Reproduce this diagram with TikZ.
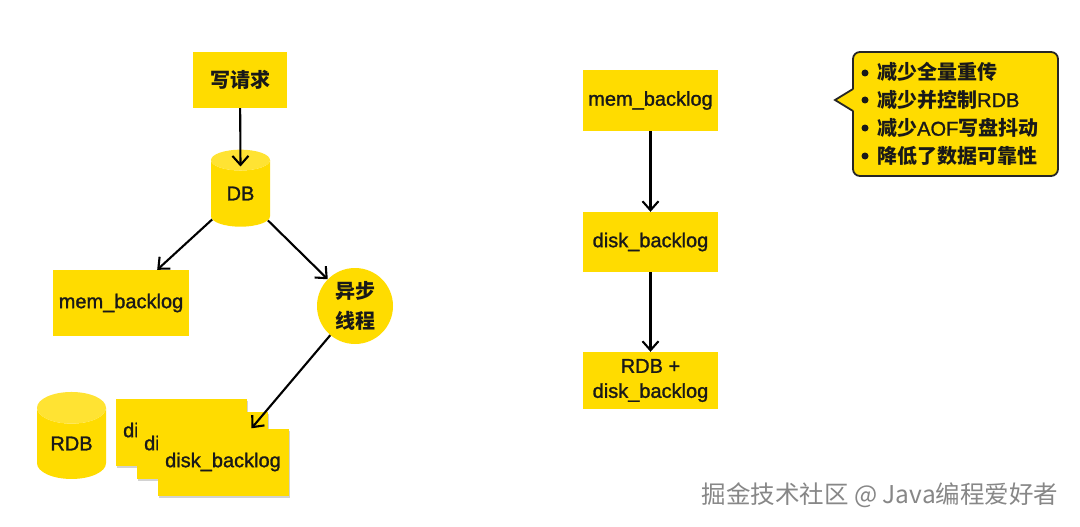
\documentclass[tikz,border=0pt]{standalone}
\usepackage{fontspec}
\setmainfont{Liberation Sans}
\newfontfamily\med{Liberation Sans}[FakeBold=1.3]
\newfontfamily\cjk{Noto Sans CJK SC}
\usetikzlibrary{shapes.geometric,shadows,arrows.meta,calc}
\definecolor{ylw}{RGB}{255,220,0}
\definecolor{txt}{RGB}{25,25,25}
\definecolor{wm}{RGB}{135,135,135}
\begin{document}
\begin{tikzpicture}[x=1pt,y=-1pt,
  box/.style={fill=ylw, text=txt, font=\med\fontsize{20}{25}\selectfont, inner sep=0pt, align=center},
  card/.style={box, minimum width=131pt, minimum height=67pt,
    drop shadow={shadow xshift=1.5pt, shadow yshift=-2pt, opacity=0.35}},
  dbcyl/.style={cylinder, shape border rotate=90, aspect=0.75, draw=none,
    cylinder uses custom fill, cylinder body fill=ylw, cylinder end fill=ylw!80!white,
    text=txt, font=\med\fontsize{20}{24}\selectfont, inner sep=0pt},
  circ/.style={circle, fill=ylw, minimum size=76pt, inner sep=0pt, align=center, text=txt,
    font=\cjk\bfseries\fontsize{20}{30}\selectfont},
  arr/.style={draw=black, line width=2.1pt, -{Straight Barb[length=9pt,width=16pt,line width=2.1pt]}},
  bul/.style={anchor=west, text=txt, inner sep=0pt, font=\med\fontsize{20}{24}\selectfont},
  dot/.style={circle, fill=txt, minimum size=7pt, inner sep=0pt}
]
\useasboundingbox (0,0) rectangle (1080,527);
\fill[white] (0,0) rectangle (1080,527);

% left diagram
\node[box, minimum width=94pt, minimum height=56pt, font=\cjk\bfseries\fontsize{20}{24}\selectfont] (req) at (240,80) {写请求};
\node[dbcyl, minimum width=59pt, minimum height=77pt] (db) at (240.5,193.5) {DB};
\node[box, minimum width=136pt, minimum height=66pt] (mem) at (121,303) {mem\_backlog};
\node[circ] (async) at (355,306) {异步\\线程};
\node[dbcyl, minimum width=69pt, minimum height=87pt] (rdb) at (71.5,443.5) {RDB};
\node[card] (c1) at (181,432) {disk\_backlog};
\node[card] (c2) at (202,445) {disk\_backlog};
\node[card] (c3) at (223,462) {disk\_backlog};
\coordinate (dbtop) at ($(db.north)+(0,17)$);

\draw[arr] (req) -- (dbtop);
\draw[arr] (db) -- (mem);
\draw[arr] (db) -- (async);
\draw[arr] (async) -- (c3);

% middle diagram
\node[box, minimum width=135pt, minimum height=61pt] (mem2) at (650.5,100.5) {mem\_backlog};
\node[box, minimum width=135pt, minimum height=60pt] (disk2) at (650.5,242) {disk\_backlog};
\node[box, minimum width=135pt, minimum height=57pt] (rdb2) at (650.5,380.5) {RDB +\\disk\_backlog};
\draw[arr] (mem2) -- (disk2);
\draw[arr] (disk2) -- (rdb2);

% callout
\draw[line width=1.8pt, draw=black!85, fill=ylw, rounded corners=7pt] (853,52) rectangle (1058,176);
\fill[ylw] (856,88) -- (835,100) -- (856,112) -- cycle;
\draw[line width=1.8pt, draw=black!85, line join=miter] (853,89) -- (835,100) -- (853,111);
\node[dot] (d1) at (865,73) {};
\node[dot] (d2) at (865,100) {};
\node[dot] (d3) at (865,128) {};
\node[dot] (d4) at (865,156) {};
\node[bul] (l1) at (877,72) {{\cjk\bfseries 减少全量重传}};
\node[bul] (l2) at (877,99.5) {{\cjk\bfseries 减少并控制}RDB};
\node[bul] (l3) at (877,128) {{\cjk\bfseries 减少}AOF{\cjk\bfseries 写盘抖动}};
\node[bul] (l4) at (877,156) {{\cjk\bfseries 降低了数据可靠性}};

% watermark
\node[text=wm, inner sep=0pt, font=\cjk\fontsize{24.5}{27}\selectfont] (wmk) at (880,495) {掘金技术社区 @ Java编程爱好者};
\end{tikzpicture}
\end{document}
